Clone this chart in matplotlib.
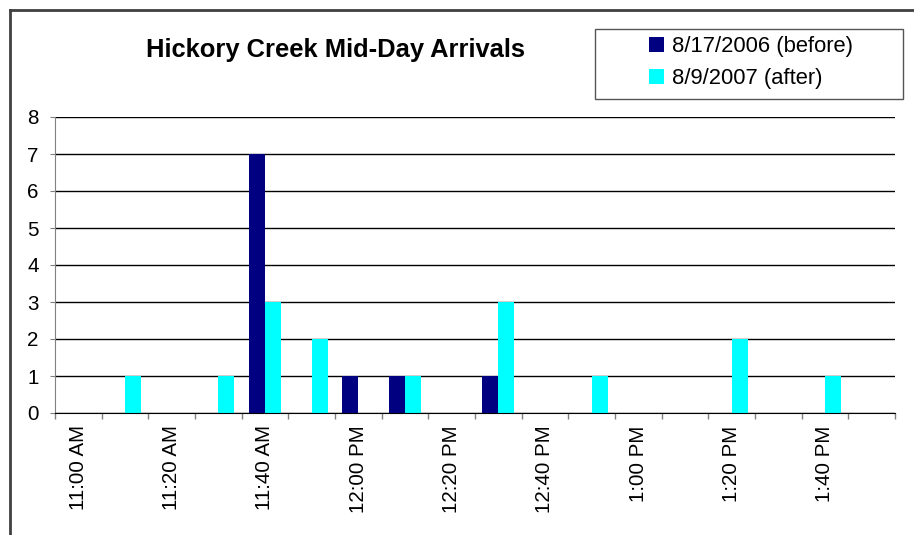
import matplotlib
matplotlib.use('Agg')
import matplotlib.pyplot as plt
from matplotlib.patches import Rectangle
from matplotlib.lines import Line2D
import numpy as np

plt.rcParams['font.family'] = ['Liberation Sans', 'DejaVu Sans']

times = ['11:00 AM', '11:10 AM', '11:20 AM', '11:30 AM', '11:40 AM', '11:50 AM',
         '12:00 PM', '12:10 PM', '12:20 PM', '12:30 PM', '12:40 PM', '12:50 PM',
         '1:00 PM', '1:10 PM', '1:20 PM', '1:30 PM', '1:40 PM', '1:50 PM']
before = [0, 0, 0, 0, 7, 0, 1, 1, 0, 1, 0, 0, 0, 0, 0, 0, 0, 0]
after = [0, 1, 0, 1, 3, 2, 0, 1, 0, 3, 0, 1, 0, 0, 2, 0, 1, 0]
labels = ['8/17/2006 (before)', '8/9/2007 (after)']
title = 'Hickory Creek Mid-Day Arrivals'

W, H = 914, 535
fig = plt.figure(figsize=(W / 100, H / 100), dpi=100)
ax = fig.add_axes([55 / W, 1 - 413 / H, 840 / W, 296 / H])

x = np.arange(len(times))
bw = 0.345
ax.bar(x - bw / 2, before, bw, color='#000080', label=labels[0])
ax.bar(x + bw / 2, after, bw, color='#00FFFF', label=labels[1])

ax.set_xlim(-0.5, len(times) - 0.5)
ax.set_ylim(0, 8)
ax.set_yticks(range(0, 9))
ax.yaxis.grid(True, color='black', linewidth=1)
ax.set_axisbelow(True)

# labels at every other category, tick marks between categories
ax.set_xticks(x[::2])
ax.set_xticklabels(times[::2], rotation=90, fontsize=14.8, va='top', ha='center')
ax.set_xticks(np.arange(-0.5, len(times)), minor=True)
ax.tick_params(axis='x', which='major', length=0, pad=9)
ax.tick_params(axis='x', which='minor', length=4.5, color='#808080', width=1)
ax.tick_params(axis='y', length=3.8, color='#808080', pad=8, labelsize=14.8)

ax.spines['top'].set_visible(False)
ax.spines['right'].set_visible(False)
ax.spines['left'].set_color('#808080')
ax.spines['bottom'].set_color('black')

fig.text(335 / W, 1 - 57 / H, title, ha='center', va='baseline',
         fontsize=18.4, fontweight='bold')

# legend box
fig.patches.append(Rectangle((595 / W, 1 - 99 / H), 308 / W, 70 / H,
                             transform=fig.transFigure, facecolor='white',
                             edgecolor='#555555', linewidth=1, zorder=1))
leg = fig.legend(loc='upper left', bbox_to_anchor=(649 / W, 1 - 36 / H),
                 frameon=False, fontsize=15.8, handlelength=0.7, handleheight=0.7,
                 handletextpad=0.35, labelspacing=0.5, borderpad=0, borderaxespad=0)
leg.set_zorder(3)

# chart area border
fig.add_artist(Line2D([9.5 / W, 9.5 / W], [0, 1 - 10 / H], transform=fig.transFigure,
                      color='#404040', linewidth=2))
fig.add_artist(Line2D([9.5 / W, 1], [1 - 10 / H, 1 - 10 / H], transform=fig.transFigure,
                      color='#404040', linewidth=2))

fig.savefig('out.png', dpi=100)
